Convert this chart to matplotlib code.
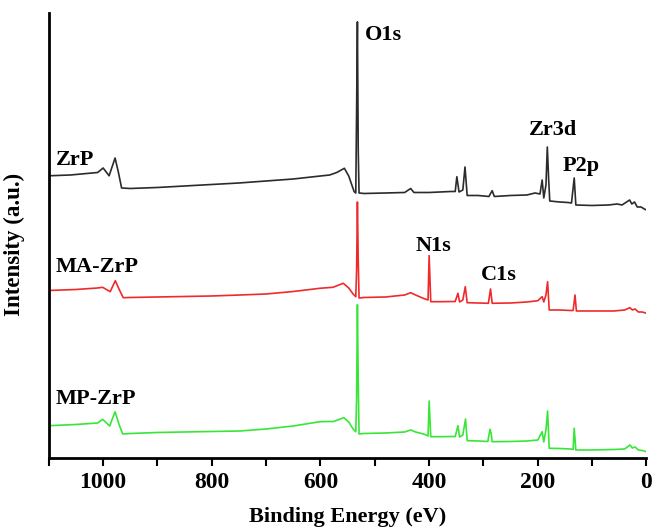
import matplotlib
matplotlib.use("Agg")
import matplotlib.pyplot as plt
from matplotlib.ticker import MultipleLocator

# binding energy (eV) and stacked intensity (a.u.)
zrp_energy = [1100, 1060, 1030, 1010, 1000, 989, 978, 972, 966, 950, 900, 850, 800, 750,
              700, 650, 600, 583, 570, 556, 548, 538, 535, 533.5, 532, 530.5, 529, 520,
              480, 445, 434, 428, 400, 360, 352, 349, 345, 338, 334, 330, 310, 290, 284,
              280, 250, 220, 205, 196, 192, 189, 185, 182.5, 180, 178, 160, 145, 138, 133,
              130, 100, 70, 54, 45, 31, 27, 22, 17, 10, 4, 0]
zrp_intensity = [282.2, 283, 284.5, 285.5, 290, 282.2, 300, 286, 270, 269.5, 270.5, 272,
                 273.5, 275, 277, 279, 282, 283, 285.5, 289.7, 282, 266.3, 265, 348, 436.1,
                 308, 265, 264.5, 265, 265.5, 269.5, 265.5, 265.5, 266.5, 266.5, 281.3, 266,
                 268, 291, 262.5, 262.5, 261.5, 267.3, 261.5, 262.5, 263, 265, 264, 278, 260,
                 273, 311, 278, 257, 256, 255.5, 255, 280, 253, 252.5, 253, 254, 253, 258,
                 254, 256, 251, 251, 249, 248]

ma_energy = [1100, 1050, 1010, 1001, 987, 977.6, 970, 963, 950, 900, 850, 800, 748, 700,
             650, 601, 577, 558, 548, 540, 535, 533.5, 532, 530.5, 529, 520, 480, 445, 434,
             425, 410, 402, 400, 397, 380, 352, 347, 344, 338, 333.5, 330, 310, 291, 287,
             284, 250, 220, 200, 192, 189, 185, 182, 179, 160, 140, 135, 131.5, 129, 100,
             60, 40, 30.5, 26, 21, 15, 8, 0]
ma_intensity = [167.5, 168.5, 170, 170.7, 166.3, 177.3, 168, 160.3, 160.5, 161, 161.5, 162,
                163, 164, 166.5, 169.7, 170.7, 174.7, 170, 164, 161.3, 188, 256, 198, 160,
                160.5, 161, 163, 165.3, 163, 159.5, 158, 202.5, 156.3, 156.3, 156.5, 164.7,
                156, 158, 171.3, 155.3, 155, 154.7, 169, 154.7, 155, 156, 157.3, 161.3, 156,
                163, 176.3, 148, 148, 147.5, 147.5, 163, 147, 147, 147, 148, 150.3, 148,
                149, 146, 146, 144.7]

mp_energy = [1100, 1050, 1010, 1001, 988, 978, 971, 964, 950, 900, 850, 800, 748, 700, 650,
             601, 576, 557, 548, 540, 535, 533.5, 532, 530.5, 529, 520, 480, 445, 434, 425,
             410, 402, 400, 397, 380, 352, 347, 344, 338, 333, 330, 310, 292, 288, 286, 284,
             250, 220, 200, 192, 189, 185, 182, 179, 160, 140, 135, 133, 130, 100, 60, 40,
             30.5, 26, 21, 15, 8, 0]
mp_intensity = [32.3, 33.5, 35, 38.7, 32, 46.3, 34, 24, 24.5, 25.5, 26, 26.5, 27, 29, 32,
                36.3, 36.5, 40.3, 36, 29, 26.3, 58, 153.3, 78, 24, 24.5, 25, 26, 28, 26, 24,
                22, 57, 21.3, 21.3, 21.5, 32.3, 21, 23, 39, 17.3, 17, 16.5, 28.7, 25, 16.3,
                16.5, 17, 18, 26.3, 16, 28, 47, 9.7, 9.5, 9, 8.5, 29.7, 8, 8, 8.5, 9, 13, 10,
                11, 8, 7.5, 6.3]

# sample names and peak labels: (text, energy, intensity)
sample_labels = [("ZrP", 1087, 293), ("MA-ZrP", 1087, 186), ("MP-ZrP", 1087, 54)]
peak_labels = [("O1s", 518, 417.6), ("Zr3d", 216, 322.6), ("P2p", 154, 287),
               ("N1s", 424, 207), ("C1s", 305, 178)]

plt.rcParams['font.family'] = ['Liberation Serif', 'DejaVu Serif']
plt.rcParams['font.weight'] = 'bold'

fig = plt.figure(figsize=(6.54, 5.28), dpi=100)
ax = fig.add_axes([0.0746, 0.1326, 0.9139, 0.8428])

ax.plot(zrp_energy, zrp_intensity, color='#2b2b2b', lw=1.2)
ax.plot(ma_energy, ma_intensity, color='#ee2a2a', lw=1.2)
ax.plot(mp_energy, mp_intensity, color='#38e638', lw=1.2)

for text, e, h in sample_labels + peak_labels:
    ax.text(e, h, text, fontsize=16, fontweight='bold', ha='left', va='baseline')

ax.set_xlim(1100, 0)
ax.set_ylim(0, 445)
ax.xaxis.set_major_locator(MultipleLocator(200))
ax.xaxis.set_minor_locator(MultipleLocator(100))
ax.tick_params(axis='x', which='both', direction='out', length=6, width=1.5, pad=4,
               labelsize=17)
ax.tick_params(axis='y', left=False, labelleft=False)
for side in ['top', 'right']:
    ax.spines[side].set_visible(False)
for side in ['left', 'bottom']:
    ax.spines[side].set_linewidth(2)

ax.set_xlabel('Binding Energy (eV)', fontsize=16, fontweight='bold', labelpad=10)
ax.set_ylabel('Intensity (a.u.)', fontsize=16.5, fontweight='bold')
ax.yaxis.set_label_coords(-0.04, 0.48)

fig.savefig('out.png', dpi=100)
